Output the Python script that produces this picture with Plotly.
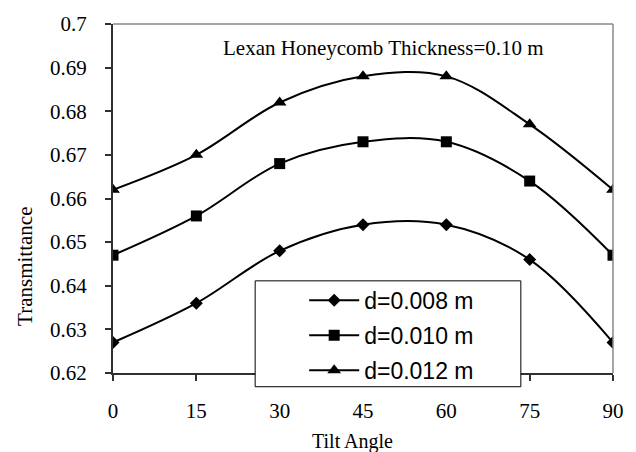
import plotly.graph_objects as go

tilt_angle = [0, 15, 30, 45, 60, 75, 90]
d_0008 = [0.627, 0.636, 0.648, 0.654, 0.654, 0.646, 0.627]
d_0010 = [0.647, 0.656, 0.668, 0.673, 0.673, 0.664, 0.647]
d_0012 = [0.662, 0.670, 0.682, 0.688, 0.688, 0.677, 0.662]
series_names = ["d=0.008 m", "d=0.010 m", "d=0.012 m"]
series_values = [d_0008, d_0010, d_0012]
symbols = ["diamond", "square", "triangle-up"]
sizes = [10, 11, 12]
x_ticks = [0, 15, 30, 45, 60, 75, 90]
y_ticks = [0.62, 0.63, 0.64, 0.65, 0.66, 0.67, 0.68, 0.69, 0.7]
y_ticktext = ["0.62", "0.63", "0.64", "0.65", "0.66", "0.67", "0.68", "0.69", "0.7"]
title_text = "Lexan Honeycomb Thickness=0.10 m"
x_title = "Tilt Angle"
y_title = "Transmittance"

W, H = 636, 452
L, R, T, B = 113, 13, 17, 79
pw, ph = W - L - R, H - T - B

def px(x):
    return (x - L) / pw

def py(y):
    return 1 - (y - T) / ph

fig = go.Figure()
for i, (name, vals) in enumerate(zip(series_names, series_values)):
    fig.add_trace(go.Scatter(
        x=tilt_angle, y=vals, name=name, mode="lines+markers",
        line=dict(color="black", width=2, shape="spline", smoothing=1),
        marker=dict(symbol=symbols[i], size=sizes[i], color="black"),
        legendgroup=f"g{i}",
    ))

serif = "Liberation Serif"
fig.update_layout(
    width=W, height=H,
    margin=dict(l=L, r=R, t=T, b=B, pad=0),
    paper_bgcolor="white", plot_bgcolor="white",
    font=dict(family=serif, size=21, color="black"),
    showlegend=True,
    legend=dict(
        x=px(308), y=py(277), xanchor="left", yanchor="top",
        bgcolor="rgba(0,0,0,0)", borderwidth=0,
        font=dict(family="Liberation Sans", size=23, color="black"),
        traceorder="grouped", tracegroupgap=2, itemwidth=50,
    ),
    xaxis=dict(
        range=[0, 90], tickvals=x_ticks, ticks="outside", ticklen=6, tickwidth=1.5,
        tickcolor="#303030", showline=True, linecolor="#303030", linewidth=2,
        showgrid=False, zeroline=False, ticklabelstandoff=12,
        tickfont=dict(family=serif, size=21, color="black"),
    ),
    yaxis=dict(
        range=[0.62, 0.7], tickvals=y_ticks, ticktext=y_ticktext, ticks="outside",
        ticklen=6, tickwidth=1.5, tickcolor="#303030", showline=True,
        linecolor="#303030", linewidth=2, showgrid=False, zeroline=False,
        ticklabelstandoff=14, tickfont=dict(family=serif, size=21, color="black"),
    ),
    shapes=[
        dict(type="line", xref="paper", yref="paper", x0=0, x1=1, y0=1, y1=1,
             line=dict(color="#888888", width=1.5), layer="above"),
        dict(type="line", xref="paper", yref="paper", x0=1, x1=1, y0=0, y1=1,
             line=dict(color="#888888", width=1.5), layer="above"),
        dict(type="rect", xref="paper", yref="paper", x0=px(258), x1=px(529),
             y0=py(387), y1=py(279), fillcolor="white",
             line=dict(color="black", width=1), layer="above"),
    ],
    annotations=[
        dict(text=title_text, xref="paper", yref="paper", x=px(389), y=py(41),
             showarrow=False, xanchor="center", yanchor="middle",
             font=dict(family=serif, size=21)),
        dict(text=x_title, xref="paper", yref="paper", x=px(357), y=py(443),
             showarrow=False, xanchor="center", yanchor="middle",
             font=dict(family=serif, size=20)),
        dict(text=y_title, xref="paper", yref="paper", x=px(23), y=py(264),
             showarrow=False, xanchor="center", yanchor="middle", textangle=-90,
             font=dict(family=serif, size=21)),
    ],
)

fig.write_html("out.html")
